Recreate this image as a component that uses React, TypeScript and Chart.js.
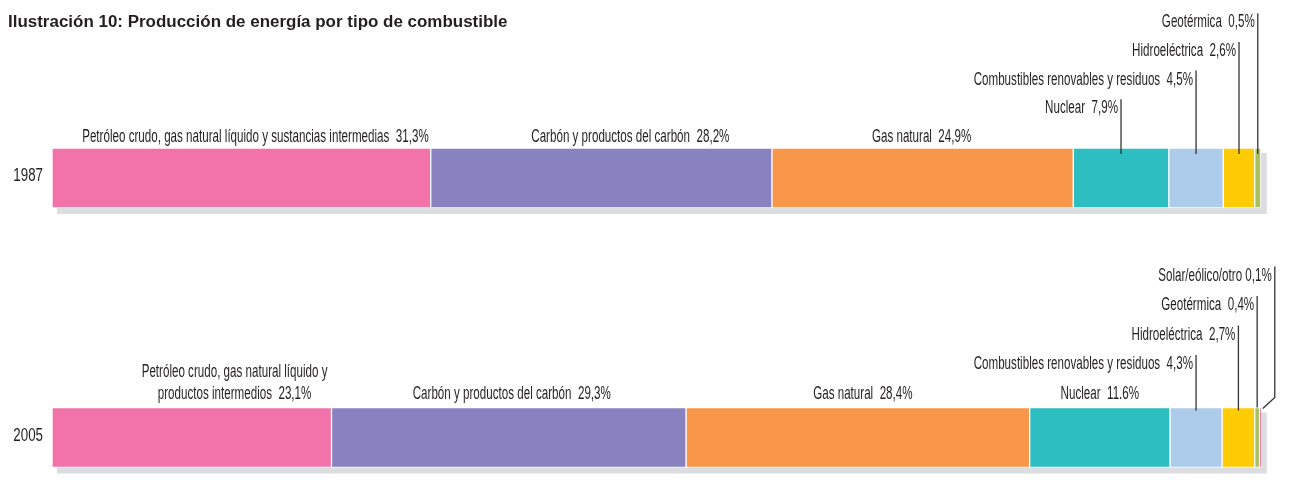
import { useEffect, useRef } from 'react';
import { Chart, registerables } from 'chart.js';

Chart.register(...registerables);

// ---------- data ----------
const years = ['1987', '2005'];

const fuelTypes = [
  'Petróleo crudo, gas natural líquido y productos intermedios',
  'Carbón y productos del carbón',
  'Gas natural',
  'Nuclear',
  'Combustibles renovables y residuos',
  'Hidroeléctrica',
  'Geotérmica',
  'Solar/eólico/otro',
];

const share1987 = [31.3, 28.2, 24.9, 7.9, 4.5, 2.6, 0.5, 0];
const share2005 = [23.1, 29.3, 28.4, 11.6, 4.3, 2.7, 0.4, 0.1];

const labels1987 = [
  'Petróleo crudo, gas natural líquido y sustancias intermedias  31,3%',
  'Carbón y productos del carbón  28,2%',
  'Gas natural  24,9%',
  'Nuclear  7,9%',
  'Combustibles renovables y residuos  4,5%',
  'Hidroeléctrica  2,6%',
  'Geotérmica  0,5%',
  '',
];

const labels2005 = [
  'Petróleo crudo, gas natural líquido y\nproductos intermedios  23,1%',
  'Carbón y productos del carbón  29,3%',
  'Gas natural  28,4%',
  'Nuclear  11.6%',
  'Combustibles renovables y residuos  4,3%',
  'Hidroeléctrica  2,7%',
  'Geotérmica  0,4%',
  'Solar/eólico/otro 0,1%',
];

const titleText = 'Ilustración 10: Producción de energía por tipo de combustible';

// ---------- styles / layout ----------
const fuelColors = ['#f273aa', '#8883c0', '#f8974a', '#2cbec0', '#adcbea', '#ffcb05', '#a8c060', '#e31c5f'];
const textColor = '#231f20';
const lineColor = '#333333';
const shadowColor = '#dcdde0';
const labelFamily = '"Liberation Sans", Arial, sans-serif';
const labelSize = 18;
const labelStretch = 0.645;

// per year: label tiers (0 = row right above bar), mode, nudges
const rowLayout = [
  {
    gap: 6,
    step: 28.7,
    depth: 6,
    tiers: [0, 0, 0, 1, 2, 3, 4, 0],
    modes: ['end', 'center', 'center', 'call', 'call', 'call', 'call', 'none'],
    dx: [-2, 29, -1, 0, 0, 0, 0, 0],
  },
  {
    gap: 9,
    step: 29.5,
    depth: 3,
    tiers: [0, 0, 0, 0, 1, 2, 3, 4],
    modes: ['end', 'center', 'center', 'center', 'call', 'call', 'call', 'elbow'],
    dx: [-4, 3, 5, 0, 0, 0, 0, 0],
  },
];

function drawText(ctx: CanvasRenderingContext2D, text: string, x: number, y: number, align: CanvasTextAlign, size = labelSize, weight = 'normal', sx = labelStretch) {
  ctx.save();
  ctx.font = `${weight} ${size}px ${labelFamily}`;
  ctx.textAlign = align;
  ctx.textBaseline = 'alphabetic';
  ctx.fillStyle = textColor;
  ctx.translate(x, y);
  ctx.scale(sx, 1);
  ctx.fillText(text, 0, 0);
  ctx.restore();
}

function textWidth(ctx: CanvasRenderingContext2D, text: string, size = labelSize, weight = 'normal', sx = labelStretch) {
  ctx.save();
  ctx.font = `${weight} ${size}px ${labelFamily}`;
  const w = ctx.measureText(text).width * sx;
  ctx.restore();
  return w;
}

function line(ctx: CanvasRenderingContext2D, pts: number[][]) {
  ctx.save();
  ctx.strokeStyle = lineColor;
  ctx.lineWidth = 1.3;
  ctx.beginPath();
  pts.forEach((p, i) => (i === 0 ? ctx.moveTo(p[0], p[1]) : ctx.lineTo(p[0], p[1])));
  ctx.stroke();
  ctx.restore();
}

const annotatePlugin = {
  id: 'annotate',
  beforeDatasetsDraw(chart: any) {
    const ctx = chart.ctx;
    years.forEach((_, yi) => {
      const first = chart.getDatasetMeta(0).data[yi];
      let end = first.base;
      chart.data.datasets.forEach((ds: any, di: number) => {
        if (ds.data[yi] > 0) end = Math.max(end, chart.getDatasetMeta(di).data[yi].x);
      });
      const top = first.y - first.height / 2;
      ctx.save();
      ctx.fillStyle = shadowColor;
      ctx.fillRect(first.base + 5, top + 5, end - first.base + 1, first.height + 1);
      ctx.restore();
    });
  },
  afterDatasetsDraw(chart: any) {
    const ctx = chart.ctx;
    // title
    drawText(ctx, titleText, 8, 27, 'left', 16, 'bold', 1.06);

    // year (category axis) labels, placed through the y scale
    const yScale = chart.scales.y;
    yScale.ticks.forEach((t: any, i: number) => {
      const py = yScale.getPixelForTick(i);
      drawText(ctx, yScale.getLabelForValue(t.value), yScale.right - 9, py + 3, 'right', 18, 'normal', 0.74);
    });

    const allLabels = [labels1987, labels2005];
    years.forEach((_, yi) => {
      const lay = rowLayout[yi];
      chart.data.datasets.forEach((ds: any, di: number) => {
        const mode = lay.modes[di];
        const text = allLabels[yi][di];
        if (mode === 'none' || !text || !(ds.data[yi] > 0)) return;
        const el = chart.getDatasetMeta(di).data[yi];
        const top = el.y - el.height / 2;
        const start = Math.min(el.base, el.x);
        const end = Math.max(el.base, el.x);
        const mid = (start + end) / 2;
        const baseline = top - lay.gap - lay.tiers[di] * lay.step;
        if (mode === 'end' || mode === 'center') {
          const lines = text.split('\n');
          const widths = lines.map((l: string) => textWidth(ctx, l));
          const blockW = Math.max(...widths);
          const cx = mode === 'end' ? end + lay.dx[di] - blockW / 2 : mid + lay.dx[di];
          lines.forEach((l: string, li: number) => {
            drawText(ctx, l, cx, baseline - (lines.length - 1 - li) * 22, 'center');
          });
        } else if (mode === 'call') {
          const lx = mid;
          drawText(ctx, text, lx - 3, baseline, 'right');
          line(ctx, [[lx, baseline - 14], [lx, top + (lay.tiers[di] === 3 && yi === 1 ? 0 : lay.depth)]]);
        } else if (mode === 'elbow') {
          const lx = end + 14;
          drawText(ctx, text, lx - 3, baseline, 'right');
          line(ctx, [[lx, baseline - 14], [lx, top - 10], [end + 2, top + 1]]);
        }
      });
    });
  },
};

export default function App() {
  const ref = useRef<HTMLCanvasElement | null>(null);

  useEffect(() => {
    if (!ref.current) return;
    const chart = new Chart(ref.current, {
      type: 'bar',
      data: {
        labels: years,
        datasets: fuelTypes.map((name, i) => ({
          label: name,
          data: [share1987[i], share2005[i]],
          backgroundColor: fuelColors[i],
          borderColor: '#ffffff',
          borderWidth: 1,
          borderSkipped: false,
          barThickness: 60,
          clip: false as any,
        })),
      },
      options: {
        indexAxis: 'y',
        animation: false,
        responsive: true,
        maintainAspectRatio: false,
        layout: { padding: { top: 178, bottom: 54.5, left: 0, right: 29 } },
        plugins: {
          legend: { display: false },
          tooltip: { enabled: false },
          title: { display: false },
        },
        scales: {
          x: { stacked: true, min: 0, max: 100, display: false },
          y: {
            stacked: true,
            offset: false,
            grid: { display: false, drawTicks: false },
            border: { display: false },
            ticks: { display: false },
            afterFit: (scale: any) => {
              scale.width = 52;
            },
          },
        },
      },
      plugins: [annotatePlugin],
    });
    return () => chart.destroy();
  }, []);

  return (
    <div style={{ position: 'absolute', left: 0, top: 0, width: 1291, height: 492, background: '#ffffff' }}>
      <canvas ref={ref} />
    </div>
  );
}
